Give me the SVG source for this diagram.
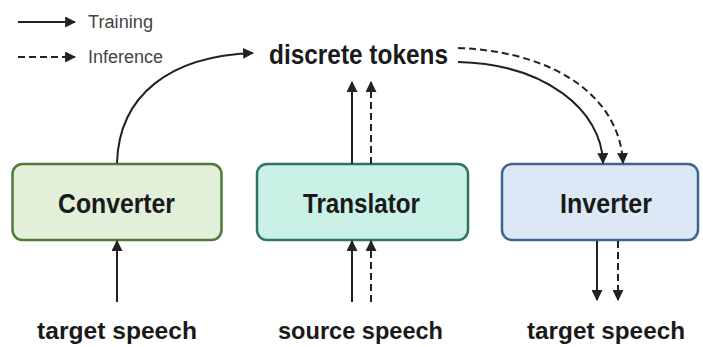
<svg xmlns="http://www.w3.org/2000/svg" width="703" height="347" viewBox="0 0 703 347">
<style>
.box{stroke-width:2.5}
.lbl{font-family:"Liberation Sans",Arial,sans-serif;font-weight:bold;fill:#1a1a1a}
.leg{font-family:"Liberation Sans",Arial,sans-serif;fill:#444;font-size:18px}
.ln{fill:none;stroke:#222;stroke-width:2}
.dash{stroke-dasharray:7,4}
</style>
<defs>
<marker id="ah" viewBox="0 0 10 10" refX="9" refY="5" markerWidth="5.5" markerHeight="5.5" orient="auto" markerUnits="strokeWidth">
<path d="M0,0 L10,5 L0,10 z" fill="#222"/>
</marker>
</defs>
<rect width="703" height="347" fill="#fff"/>
<g id="legend">
<line class="ln" x1="18" y1="22" x2="75" y2="22" marker-end="url(#ah)"/>
<text class="leg" x="88" y="28" textLength="65" lengthAdjust="spacingAndGlyphs">Training</text>
<line class="ln dash" x1="18" y1="57" x2="75" y2="57" marker-end="url(#ah)"/>
<text class="leg" x="88" y="63" textLength="75" lengthAdjust="spacingAndGlyphs">Inference</text>
</g>
<g id="tokens">
<text class="lbl" x="269" y="64" font-size="27" font-weight="600" textLength="179" lengthAdjust="spacingAndGlyphs">discrete tokens</text>
</g>
<g id="converter">
<rect class="box" x="12.5" y="164" width="209" height="76" rx="10" fill="#e2efd9" stroke="#4f7a3a"/>
<text class="lbl" x="58" y="213" font-size="28" textLength="117" lengthAdjust="spacingAndGlyphs">Converter</text>
</g>
<g id="translator">
<rect class="box" x="257" y="164" width="211" height="76" rx="10" fill="#c9f1e6" stroke="#2f7565"/>
<text class="lbl" x="303" y="213" font-size="28" textLength="117" lengthAdjust="spacingAndGlyphs">Translator</text>
</g>
<g id="inverter">
<rect class="box" x="502" y="164" width="196" height="76" rx="10" fill="#dce8f5" stroke="#3c6591"/>
<text class="lbl" x="560" y="213" font-size="28" textLength="92" lengthAdjust="spacingAndGlyphs">Inverter</text>
</g>
<g id="inputs">
<text class="lbl" x="37" y="339" font-size="24" textLength="160" lengthAdjust="spacingAndGlyphs">target speech</text>
<text class="lbl" x="278" y="339" font-size="24" textLength="165" lengthAdjust="spacingAndGlyphs">source speech</text>
<text class="lbl" x="527" y="339" font-size="24" textLength="158" lengthAdjust="spacingAndGlyphs">target speech</text>
</g>
<g id="connectors">
<path class="ln" d="M117,163 C119,95 170,56 253,53" marker-end="url(#ah)"/>
<line class="ln" x1="352" y1="164" x2="352" y2="82" marker-end="url(#ah)"/>
<line class="ln dash" x1="371" y1="164" x2="371" y2="82" marker-end="url(#ah)"/>
<line class="ln" x1="117" y1="302" x2="117" y2="241" marker-end="url(#ah)"/>
<line class="ln" x1="352" y1="302" x2="352" y2="241" marker-end="url(#ah)"/>
<line class="ln dash" x1="371" y1="302" x2="371" y2="241" marker-end="url(#ah)"/>
<path class="ln" d="M458,62 C545,64 602,110 603,163" marker-end="url(#ah)"/>
<path class="ln dash" d="M458,48 C560,52 620,100 623,163" marker-end="url(#ah)"/>
<line class="ln" x1="597" y1="241" x2="597" y2="300" marker-end="url(#ah)"/>
<line class="ln dash" x1="618" y1="241" x2="618" y2="300" marker-end="url(#ah)"/>
</g>
</svg>
